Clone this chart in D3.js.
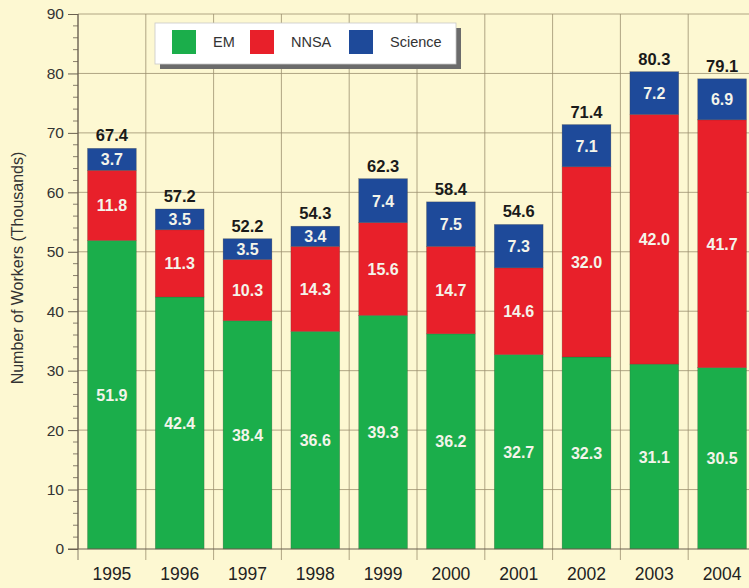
<!DOCTYPE html>
<html>
<head>
<meta charset="utf-8">
<script src="https://cdn.jsdelivr.net/npm/d3@7"></script>
<style>
  body { margin: 0; background: #fdf8d2; }
  svg { display: block; font-family: "Liberation Sans", Arial, sans-serif; }
</style>
</head>
<body>
<svg id="chart" width="749" height="588"></svg>
<script>
var years = ["1995", "1996", "1997", "1998", "1999", "2000", "2001", "2002", "2003", "2004"];
var em = [51.9, 42.4, 38.4, 36.6, 39.3, 36.2, 32.7, 32.3, 31.1, 30.5];
var nnsa = [11.8, 11.3, 10.3, 14.3, 15.6, 14.7, 14.6, 32.0, 42.0, 41.7];
var science = [3.7, 3.5, 3.5, 3.4, 7.4, 7.5, 7.3, 7.1, 7.2, 6.9];
var totals = ["67.4", "57.2", "52.2", "54.3", "62.3", "58.4", "54.6", "71.4", "80.3", "79.1"];
var seriesNames = ["EM", "NNSA", "Science"];
var colors = ["#1bae4b", "#e8202a", "#1e4a9a"];
var yTicks = [0, 10, 20, 30, 40, 50, 60, 70, 80, 90];

var svg = d3.select("#chart");
var plotLeft = 78, plotTop = 14, plotBottom = 549, plotRight = 756;

var x = d3.scaleBand()
    .domain(years)
    .range([plotLeft, plotRight])
    .paddingInner(0.28)
    .paddingOuter(0.14)
    .align(0.5);
var y = d3.scaleLinear().domain([0, 90]).range([plotBottom, plotTop]);

svg.append("rect")
    .attr("width", 749)
    .attr("height", 588)
    .attr("fill", "#fdf8d2");

// grid
var gridColor = "#9c9070";
svg.append("g")
    .selectAll("line")
    .data(yTicks.slice(1))
    .join("line")
    .attr("x1", plotLeft).attr("x2", 749)
    .attr("y1", d => y(d)).attr("y2", d => y(d))
    .attr("stroke", gridColor)
    .attr("stroke-width", 0.8);

var step = x.step();
svg.append("g")
    .selectAll("line")
    .data(years)
    .join("line")
    .attr("x1", d => x(d) - (step - x.bandwidth()) / 2)
    .attr("x2", d => x(d) - (step - x.bandwidth()) / 2)
    .attr("y1", plotTop).attr("y2", plotBottom + 11)
    .attr("stroke", (d, i) => i === 0 ? "#6a6050" : gridColor)
    .attr("stroke-width", 0.8);

// stacked data
var rows = years.map((yr, i) => ({ year: yr, EM: em[i], NNSA: nnsa[i], Science: science[i] }));
var stacked = d3.stack().keys(seriesNames)(rows);

var layers = svg.append("g")
    .selectAll("g")
    .data(stacked)
    .join("g")
    .attr("fill", (d, i) => colors[i]);

layers.selectAll("rect")
    .data(d => d)
    .join("rect")
    .attr("x", d => x(d.data.year))
    .attr("width", x.bandwidth())
    .attr("y", d => y(d[1]))
    .attr("height", d => y(d[0]) - y(d[1]))
    .attr("stroke", "rgba(60,50,40,0.35)")
    .attr("stroke-width", 0.6);

layers.selectAll("text")
    .data((d, i) => d.map(p => ({ p: p, v: p.data[seriesNames[i]] })))
    .join("text")
    .attr("x", d => x(d.p.data.year) + x.bandwidth() / 2)
    .attr("y", d => (y(d.p[0]) + y(d.p[1])) / 2 + 6)
    .attr("text-anchor", "middle")
    .attr("fill", "#f4f4ea")
    .attr("font-size", 16)
    .attr("font-weight", "bold")
    .text(d => d.v.toFixed(1));

// totals above bars
svg.append("g")
    .selectAll("text")
    .data(stacked[2])
    .join("text")
    .attr("x", d => x(d.data.year) + x.bandwidth() / 2)
    .attr("y", d => y(d[1]) - 7)
    .attr("text-anchor", "middle")
    .attr("fill", "#1a1a1a")
    .attr("font-size", 16.5)
    .attr("font-weight", "bold")
    .text((d, i) => totals[i]);

// y axis
var yAxis = svg.append("g")
    .attr("transform", "translate(" + plotLeft + ",0)")
    .call(d3.axisLeft(y).tickValues(yTicks).tickSize(10).tickPadding(4).tickFormat(d3.format("d")));
yAxis.select(".domain").attr("stroke", "#6a6050").attr("d", "M0," + plotTop + "V" + plotBottom);
yAxis.selectAll(".tick line").attr("stroke", "#6a6050");
yAxis.selectAll(".tick text")
    .attr("font-size", 15.5)
    .attr("fill", "#333")
    .attr("font-family", "Liberation Sans, Arial, sans-serif");

var minor = d3.range(0, 90, 2).filter(d => d % 10 !== 0);
svg.append("g")
    .selectAll("line")
    .data(minor)
    .join("line")
    .attr("x1", plotLeft - 5).attr("x2", plotLeft)
    .attr("y1", d => y(d)).attr("y2", d => y(d))
    .attr("stroke", "#6a6050")
    .attr("stroke-width", 0.8);

// x axis
svg.append("line")
    .attr("x1", plotLeft - 10).attr("x2", 749)
    .attr("y1", plotBottom).attr("y2", plotBottom)
    .attr("stroke", "#6a6050");

svg.append("g")
    .selectAll("text")
    .data(years)
    .join("text")
    .attr("x", d => x(d) + x.bandwidth() / 2)
    .attr("y", 580)
    .attr("text-anchor", "middle")
    .attr("font-size", 17.5)
    .attr("fill", "#222")
    .text(d => d);

// y title
svg.append("text")
    .attr("transform", "translate(23,268) rotate(-90)")
    .attr("text-anchor", "middle")
    .attr("font-size", 16)
    .attr("fill", "#333")
    .text("Number of Workers (Thousands)");

// legend
var legend = svg.append("g").attr("transform", "translate(155,23)");
legend.append("rect")
    .attr("x", 5).attr("y", 5)
    .attr("width", 301).attr("height", 41)
    .attr("fill", "#6b6b6b");
legend.append("rect")
    .attr("width", 301).attr("height", 41)
    .attr("fill", "#ffffff")
    .attr("stroke", "#c8c8c8")
    .attr("stroke-width", 0.8);
var legendX = [17, 95, 194];
var items = legend.selectAll("g.item")
    .data(seriesNames)
    .join("g")
    .attr("class", "item")
    .attr("transform", (d, i) => "translate(" + legendX[i] + ",7)");
items.append("rect")
    .attr("width", 24).attr("height", 24)
    .attr("fill", (d, i) => colors[i]);
items.append("text")
    .attr("x", 41)
    .attr("y", 17)
    .attr("font-size", 14.5)
    .attr("fill", "#333")
    .text(d => d);
</script>
</body>
</html>
